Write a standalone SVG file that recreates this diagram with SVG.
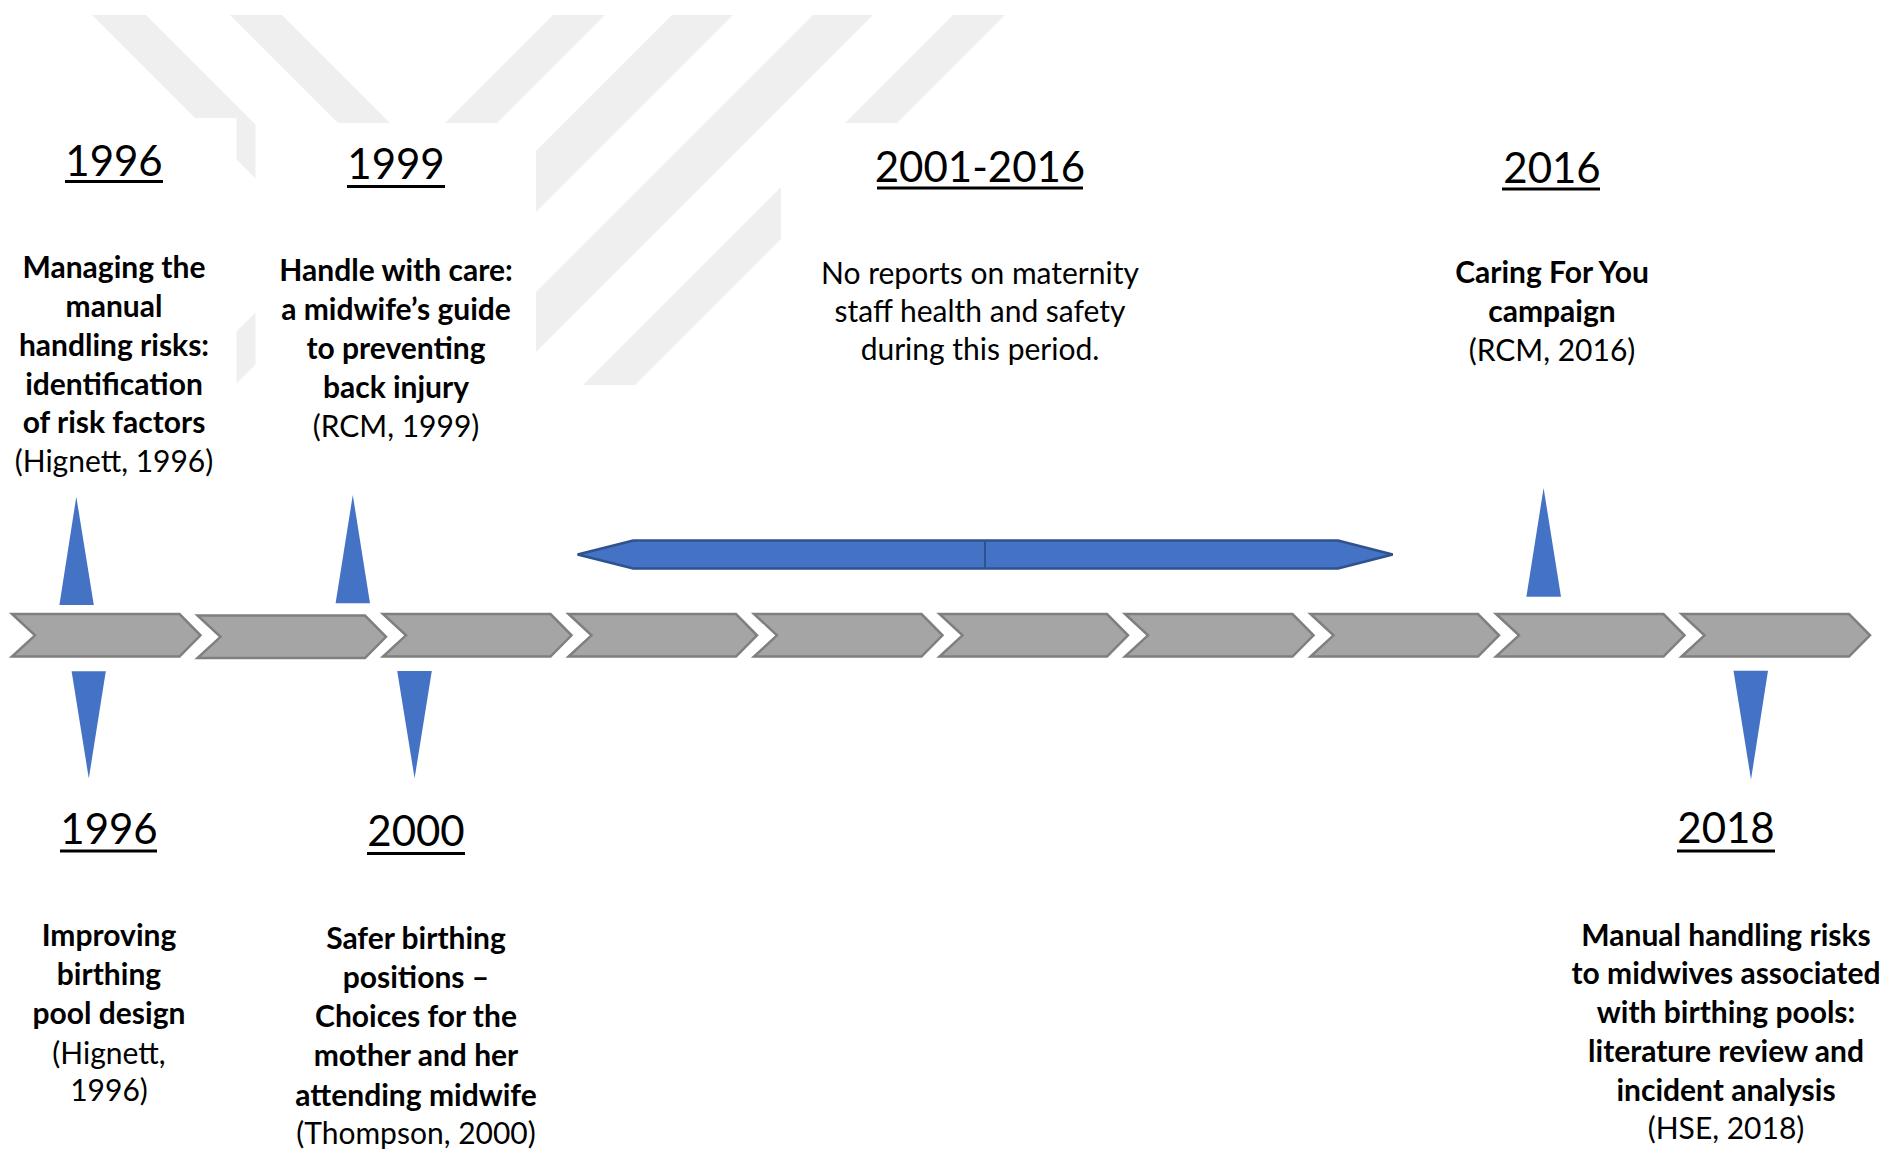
<svg xmlns="http://www.w3.org/2000/svg" width="1887" height="1159" viewBox="0 0 1887 1159">
  <defs>
    <style>
      text { font-family: Lato, "Liberation Sans", sans-serif; fill: #000; text-anchor: middle; }
      .yr { font-size: 42px; font-weight: 400; }
      .tb { font-size: 30px; font-weight: 700; }
      .tr { font-size: 30px; font-weight: 400; }
      .ul { fill: #000; }
      .wm { fill: #efefef; }
      .mask { fill: #ffffff; }
      .chev { fill: #a5a5a5; stroke: #7f7f7f; stroke-width: 2.5; stroke-linejoin: miter; }
      .ptr { fill: #4472c4; }
      .span { fill: #4472c4; stroke: #2f528f; stroke-width: 2.5; stroke-linejoin: miter; }
    </style>
    <clipPath id="wmclip">
      <rect x="0" y="15" width="1100" height="370"/>
    </clipPath>
    <clipPath id="wmclip2">
      <rect x="0" y="15" width="1100" height="245"/>
    </clipPath>
    <polygon id="chevron" points="0,0 167.5,0 188.5,21.3 167.5,42.6 0,42.6 23,21.3"/>
  </defs>

  <rect x="0" y="0" width="1887" height="1159" fill="#ffffff"/>

  <!-- faint watermark -->
  <g id="watermark">
    <g clip-path="url(#wmclip)">
      <polygon class="wm" points="92,15 146,15 516,385 462,385"/>
      <polygon class="wm" points="553,15 605,15 235,385 183,385"/>
      <polygon class="wm" points="672,15 733,15 363,385 302,385"/>
      <polygon class="wm" points="813,15 873,15 503,385 443,385"/>
      <polygon class="wm" points="953,15 1005,15 635,385 583,385"/>
    </g>
    <g clip-path="url(#wmclip2)">
      <polygon class="wm" points="230,15 282,15 652,385 600,385"/>
    </g>
    <rect class="mask" x="0" y="118" width="236.5" height="300"/>
    <rect class="mask" x="255.5" y="123" width="280.5" height="300"/>
    <rect class="mask" x="781" y="123" width="320" height="300"/>
  </g>

  <!-- timeline chevrons -->
  <g id="timeline">
    <use href="#chevron" class="chev" x="12" y="614"/>
    <use href="#chevron" class="chev" x="197.5" y="615.5"/>
    <use href="#chevron" class="chev" x="383" y="614"/>
    <use href="#chevron" class="chev" x="568.5" y="614"/>
    <use href="#chevron" class="chev" x="754" y="614"/>
    <use href="#chevron" class="chev" x="939.5" y="614"/>
    <use href="#chevron" class="chev" x="1125" y="614"/>
    <use href="#chevron" class="chev" x="1310.5" y="614"/>
    <use href="#chevron" class="chev" x="1496" y="614"/>
    <use href="#chevron" class="chev" x="1681.5" y="614"/>
  </g>

  <!-- connectors: pointers and period span -->
  <g id="connectors">
    <polygon class="ptr" points="76.3,496.7 93.8,605 59.4,605"/>
    <polygon class="ptr" points="352.8,495 370,603.3 335.6,603.3"/>
    <polygon class="ptr" points="1543.6,488 1561,596.7 1526.4,596.7"/>
    <polygon class="ptr" points="71.6,671.2 105.8,671.2 88.8,778.5"/>
    <polygon class="ptr" points="397.2,671 431.8,671 414.6,778.3"/>
    <polygon class="ptr" points="1733.5,670.8 1768,670.8 1751,779.4"/>
    <g id="period-span">
      <polygon class="span" points="577.6,554.5 633.2,540.5 1338,540.5 1392.7,554.5 1338,568.5 633.2,568.5"/>
      <line x1="985" y1="540.5" x2="985" y2="568.5" stroke="#2f528f" stroke-width="2"/>
    </g>
  </g>

  <!-- top events -->
  <g id="event-1996-top">
    <text class="yr" x="114" y="176">1996</text>
    <rect class="ul" x="65" y="180" width="98" height="3"/>
    <text class="tb" x="114" y="278">Managing the</text>
    <text class="tb" x="114" y="317">manual</text>
    <text class="tb" x="114" y="355.5">handling risks:</text>
    <text class="tb" x="114" y="394.5">identification</text>
    <text class="tb" x="114" y="433">of risk factors</text>
    <text class="tr" x="114" y="471.5">(Hignett, 1996)</text>
  </g>

  <g id="event-1999">
    <text class="yr" x="396" y="178.5">1999</text>
    <rect class="ul" x="347" y="185" width="98" height="3"/>
    <text class="tb" x="396" y="281">Handle with care:</text>
    <text class="tb" x="396" y="320">a midwife’s guide</text>
    <text class="tb" x="396" y="358.5">to preventing</text>
    <text class="tb" x="396" y="397.5">back injury</text>
    <text class="tr" x="396" y="436.5">(RCM, 1999)</text>
  </g>

  <g id="event-2001-2016">
    <text class="yr" x="980" y="181.5">2001-2016</text>
    <rect class="ul" x="877" y="186.5" width="206" height="3"/>
    <text class="tr" x="980" y="283.5">No reports on maternity</text>
    <text class="tr" x="980" y="321.7">staff health and safety</text>
    <text class="tr" x="980" y="360">during this period.</text>
  </g>

  <g id="event-2016">
    <text class="yr" x="1552" y="182.5">2016</text>
    <rect class="ul" x="1502" y="187.5" width="98" height="3"/>
    <text class="tb" x="1552" y="283.3">Caring For You</text>
    <text class="tb" x="1552" y="322">campaign</text>
    <text class="tr" x="1552" y="361">(RCM, 2016)</text>
  </g>

  <!-- bottom events -->
  <g id="event-1996-bottom">
    <text class="yr" x="109" y="844">1996</text>
    <rect class="ul" x="60" y="849.5" width="97" height="3"/>
    <text class="tb" x="109" y="945.8">Improving</text>
    <text class="tb" x="109" y="985">birthing</text>
    <text class="tb" x="109" y="1024">pool design</text>
    <text class="tr" x="109" y="1063.5">(Hignett,</text>
    <text class="tr" x="109" y="1101">1996)</text>
  </g>

  <g id="event-2000">
    <text class="yr" x="416" y="846">2000</text>
    <rect class="ul" x="367" y="852" width="98" height="3"/>
    <text class="tb" x="416" y="949.4">Safer birthing</text>
    <text class="tb" x="416" y="988">positions –</text>
    <text class="tb" x="416" y="1027">Choices for the</text>
    <text class="tb" x="416" y="1066">mother and her</text>
    <text class="tb" x="416" y="1105.5">attending midwife</text>
    <text class="tr" x="416" y="1143.7">(Thompson, 2000)</text>
  </g>

  <g id="event-2018">
    <text class="yr" x="1726" y="843">2018</text>
    <rect class="ul" x="1677" y="849.5" width="98" height="3"/>
    <text class="tb" x="1726" y="945.6">Manual handling risks</text>
    <text class="tb" x="1726" y="984.4">to midwives associated</text>
    <text class="tb" x="1726" y="1023">with birthing pools:</text>
    <text class="tb" x="1726" y="1062">literature review and</text>
    <text class="tb" x="1726" y="1100.7">incident analysis</text>
    <text class="tr" x="1726" y="1139.4">(HSE, 2018)</text>
  </g>
</svg>
